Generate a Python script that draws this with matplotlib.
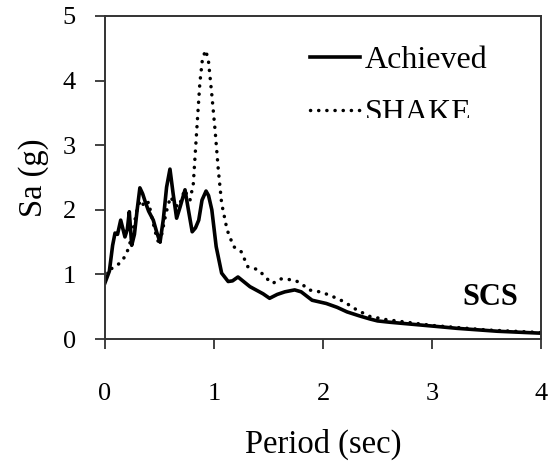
import matplotlib
matplotlib.use("Agg")
import matplotlib.pyplot as plt
from matplotlib.transforms import Bbox

plt.rcParams["font.family"] = ["Liberation Serif", "DejaVu Serif"]

# Response spectra: period (s) vs spectral acceleration (g)
achieved_period = [0.0, 0.04, 0.07, 0.092, 0.115, 0.144, 0.165, 0.183, 0.205, 0.223,
                   0.245, 0.27, 0.295, 0.32, 0.345, 0.37, 0.40, 0.443, 0.475, 0.505,
                   0.535, 0.565, 0.596, 0.625, 0.657, 0.69, 0.734, 0.765, 0.80, 0.83,
                   0.86, 0.89, 0.927, 0.95, 0.98, 1.02, 1.07, 1.13, 1.17, 1.22,
                   1.33, 1.45, 1.51, 1.58, 1.65, 1.74, 1.80, 1.90, 2.03, 2.13,
                   2.22, 2.33, 2.43, 2.5, 2.61, 3.07, 3.23, 3.6, 4.0]
achieved_sa = [0.87, 1.05, 1.45, 1.64, 1.62, 1.84, 1.70, 1.58, 1.70, 1.97,
               1.45, 1.62, 2.00, 2.34, 2.25, 2.12, 1.98, 1.84, 1.65, 1.50,
               1.85, 2.35, 2.63, 2.25, 1.87, 2.05, 2.31, 2.00, 1.66, 1.72,
               1.84, 2.15, 2.29, 2.22, 2.00, 1.43, 1.02, 0.89, 0.90, 0.96,
               0.81, 0.70, 0.63, 0.69, 0.73, 0.76, 0.73, 0.60, 0.55, 0.49,
               0.42, 0.36, 0.31, 0.28, 0.26, 0.19, 0.165, 0.12, 0.09]

shake_period = [0.0, 0.05, 0.10, 0.14, 0.18, 0.21, 0.24, 0.27, 0.30, 0.33,
                0.36, 0.40, 0.43, 0.47, 0.50, 0.53, 0.56, 0.60, 0.64, 0.67,
                0.70, 0.73, 0.76, 0.78, 0.81, 0.84, 0.87, 0.895, 0.925, 0.95,
                0.98, 1.01, 1.04, 1.07, 1.12, 1.18, 1.25, 1.31, 1.41, 1.48,
                1.54, 1.60, 1.64, 1.74, 1.80, 1.87, 1.97, 2.06, 2.19, 2.31,
                2.43, 2.58, 3.0, 3.5, 4.0]
shake_sa = [1.02, 1.08, 1.13, 1.18, 1.27, 1.38, 1.55, 1.80, 2.05, 2.15,
            2.05, 2.12, 1.88, 1.60, 1.45, 1.70, 1.95, 2.20, 2.10, 2.04,
            2.15, 2.31, 2.20, 2.15, 2.40, 3.19, 3.96, 4.35, 4.47, 4.29,
            3.78, 3.23, 2.61, 2.10, 1.69, 1.43, 1.35, 1.12, 1.07, 0.94,
            0.86, 0.93, 0.93, 0.91, 0.86, 0.76, 0.73, 0.68, 0.58, 0.45,
            0.35, 0.30, 0.21, 0.14, 0.10]

x_ticks = [0, 1, 2, 3, 4]
y_ticks = [0, 1, 2, 3, 4, 5]
series_names = ["Achieved", "SHAKE"]
site_label = "SCS"

fig = plt.figure(figsize=(5.56, 4.61), dpi=100)
ax = fig.add_axes([105 / 556, 1 - 339 / 461, 436 / 556, 323 / 461])

ax.plot(achieved_period, achieved_sa, color="black", lw=2.6,
        solid_joinstyle="round", label=series_names[0])
ax.plot(shake_period, shake_sa, color="black", lw=2.5,
        linestyle=(0, (0.05, 2.3)), dash_capstyle="round", label=series_names[1])

ax.set_xlim(0, 4)
ax.set_ylim(0, 5)
ax.set_xticks(x_ticks)
ax.set_yticks(y_ticks)
ax.tick_params(axis="both", direction="out", length=7, width=1.3,
               labelsize=19, color="#333333")
ax.tick_params(axis="x", pad=24.5)
ax.tick_params(axis="y", pad=14)
for side in ax.spines.values():
    side.set_linewidth(1.4)
    side.set_color("#333333")

ax.set_xlabel("Period (sec)", fontsize=23.5, labelpad=17)
ax.set_ylabel("Sa (g)", fontsize=23.5, labelpad=10)

ax.text(3.79, 0.53, site_label, fontsize=22, fontweight="bold",
        ha="right", va="baseline")

leg = ax.legend(loc="upper left", bbox_to_anchor=(0.470, 0.908), frameon=False,
                fontsize=23, handlelength=1.57, handletextpad=0.16,
                labelspacing=0.74, borderpad=0.0, borderaxespad=0.0)

# the lower legend entry is cut off near its baseline
clip = Bbox.from_extents(0, 461 - 118, 556, 461)
leg.get_texts()[1].set_clip_box(clip)
leg.get_texts()[1].set_clip_on(True)

fig.savefig("out.png", dpi=100)
